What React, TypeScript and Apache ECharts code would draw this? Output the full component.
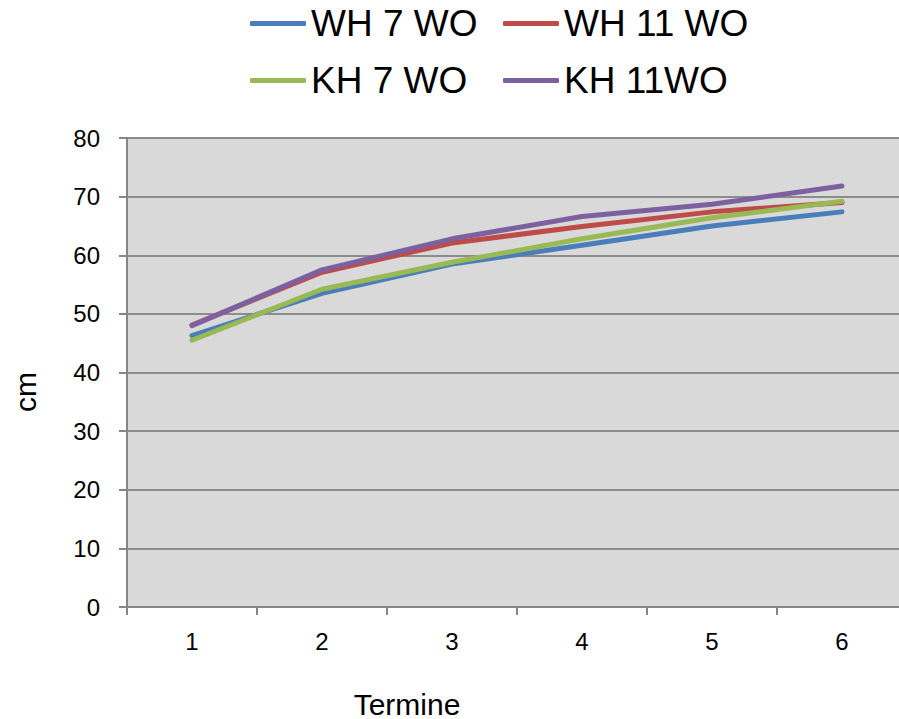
import React, { useEffect, useRef } from "react";
import * as echarts from "echarts";

const categories = ["1", "2", "3", "4", "5", "6"];
const seriesNames = ["WH 7 WO", "WH 11 WO", "KH 7 WO", "KH 11WO"];
const wh7 = [46.3, 53.5, 58.5, 61.7, 65.0, 67.4];
const wh11 = [48.1, 57.1, 62.1, 64.9, 67.4, 69.0];
const kh7 = [45.5, 54.2, 58.8, 62.8, 66.4, 69.2];
const kh11 = [48.0, 57.5, 62.8, 66.6, 68.7, 71.8];
const colors = ["#4a7ebb", "#be4b48", "#98b954", "#7d60a0"];
const yTicks = { min: 0, max: 80, interval: 10 };

const FONT = "Liberation Sans, Arial, sans-serif";

export default function App() {
  const ref = useRef<HTMLDivElement>(null);
  useEffect(() => {
    if (!ref.current) return;
    const chart = echarts.init(ref.current, undefined, { renderer: "svg" });
    const values = [wh7, wh11, kh7, kh11];
    const legendPos = [
      { left: 250, top: 5 },
      { left: 503, top: 5 },
      { left: 250, top: 62 },
      { left: 503, top: 62 },
    ];
    chart.setOption({
      animation: false,
      backgroundColor: "#ffffff",
      textStyle: { fontFamily: FONT },
      legend: seriesNames.map((n, i) => ({
        data: [n],
        left: legendPos[i].left,
        top: legendPos[i].top,
        icon: "roundRect",
        itemWidth: 56,
        itemHeight: 5,
        itemGap: 0,
        padding: 0,
        textStyle: {
          fontSize: 37,
          lineHeight: 37,
          color: "#000",
          fontFamily: FONT,
        },
      })),
      grid: { left: 127, top: 138, right: 0, bottom: 112, containLabel: false, backgroundColor: "#d9d9d9", show: true, borderWidth: 0 },
      xAxis: {
        type: "category",
        data: categories,
        boundaryGap: true,
        axisLine: { show: true, lineStyle: { color: "#868686", width: 2 } },
        axisTick: { show: true, length: 8, lineStyle: { color: "#868686", width: 2 }, alignWithLabel: false },
        axisLabel: { fontSize: 24, color: "#000", margin: 22 },
        splitLine: { show: false },
      },
      yAxis: {
        type: "value",
        min: yTicks.min,
        max: yTicks.max,
        interval: yTicks.interval,
        axisLine: { show: true, lineStyle: { color: "#868686", width: 2 } },
        axisTick: { show: true, length: 8, lineStyle: { color: "#868686", width: 2 } },
        axisLabel: { fontSize: 24, color: "#000", margin: 27 },
        splitLine: { show: true, lineStyle: { color: "#8c8c8c", width: 2 } },
      },
      graphic: [
        {
          type: "text",
          x: 25,
          y: 392,
          rotation: Math.PI / 2,
          style: { text: "cm", fontSize: 30, fill: "#000", align: "center", verticalAlign: "middle", fontFamily: FONT },
        },
        {
          type: "text",
          x: 407,
          y: 704,
          style: { text: "Termine", fontSize: 30, fill: "#000", align: "center", verticalAlign: "middle", fontFamily: FONT },
        },
      ],
      series: seriesNames.map((n, i) => ({
        name: n,
        type: "line",
        data: values[i],
        symbol: "none",
        color: colors[i],
        lineStyle: { width: 5, color: colors[i], cap: "round", join: "round" },
        z: 2 + i,
      })),
    });
    return () => chart.dispose();
  }, []);
  return (
    <div style={{ position: "fixed", left: 0, top: 0, width: 899, height: 719, overflow: "hidden" }}>
      <div ref={ref} style={{ width: 907, height: 719 }} />
    </div>
  );
}
